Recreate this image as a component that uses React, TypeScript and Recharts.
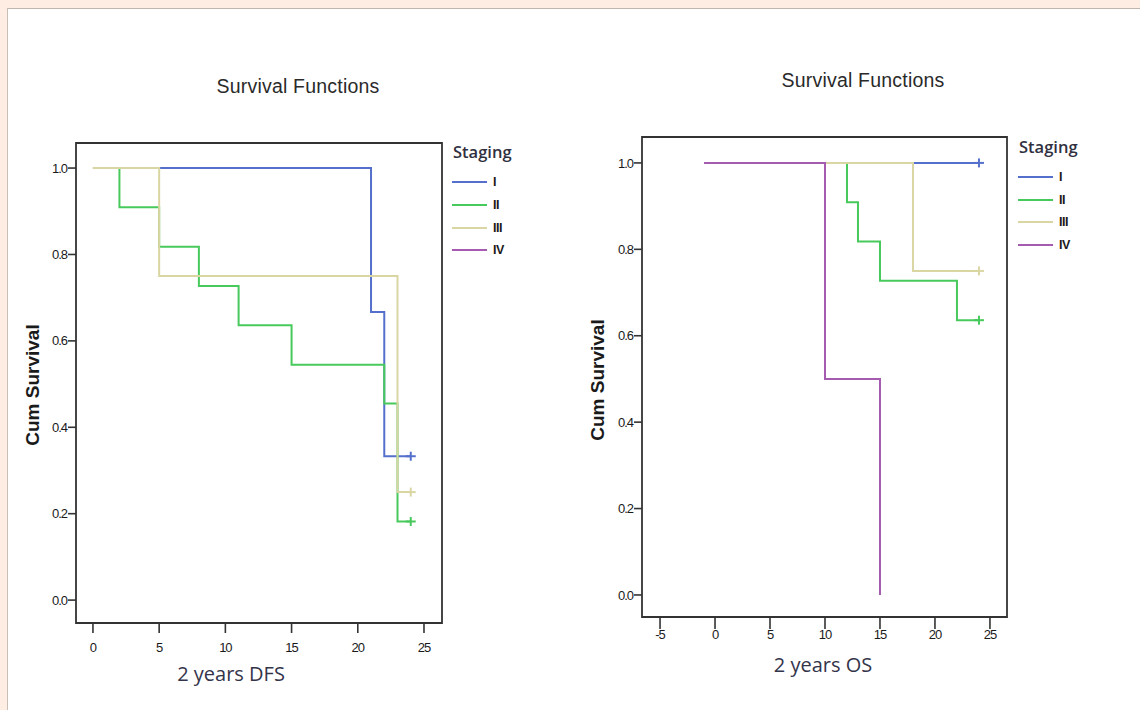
import { LineChart, Line, XAxis, YAxis, ReferenceArea } from 'recharts'

const stages = ['I', 'II', 'III', 'IV']
const stageColors = ['#5470cc', '#48c95c', '#dad6a4', '#a55cb0']

// 2 years DFS (months)
const dfsTimesI = [0, 21, 22, 24]
const dfsSurvI = [1, 0.667, 0.333, 0.333]
const dfsTimesII = [0, 2, 5, 8, 11, 15, 22, 23, 24]
const dfsSurvII = [1, 0.909, 0.818, 0.727, 0.636, 0.545, 0.455, 0.182, 0.182]
const dfsTimesIII = [0, 5, 23, 24]
const dfsSurvIII = [1, 0.75, 0.25, 0.25]

// 2 years OS (months)
const osTimesI = [0, 24]
const osSurvI = [1, 1]
const osTimesII = [0, 12, 13, 15, 22, 24]
const osSurvII = [1, 0.909, 0.818, 0.727, 0.636, 0.636]
const osTimesIII = [0, 18, 24]
const osSurvIII = [1, 0.75, 0.75]
const osTimesIV = [-1, 10, 15]
const osSurvIV = [1, 0.5, 0]

const dfsTicks = [0, 5, 10, 15, 20, 25]
const osTicks = [-5, 0, 5, 10, 15, 20, 25]
const survTicks = [0, 0.2, 0.4, 0.6, 0.8, 1.0]

interface Pt {
  t: number
  s: number
  censored: boolean
}

function toCurve(times: number[], surv: number[], censoredAtEnd: boolean): Pt[] {
  return times.map((t, i) => ({
    t,
    s: surv[i],
    censored: censoredAtEnd && i === times.length - 1,
  }))
}

interface Series {
  stage: number
  data: Pt[]
}

const dfsSeries: Series[] = [
  { stage: 0, data: toCurve(dfsTimesI, dfsSurvI, true) },
  { stage: 1, data: toCurve(dfsTimesII, dfsSurvII, true) },
  { stage: 2, data: toCurve(dfsTimesIII, dfsSurvIII, true) },
]

const osSeries: Series[] = [
  { stage: 0, data: toCurve(osTimesI, osSurvI, true) },
  { stage: 1, data: toCurve(osTimesII, osSurvII, true) },
  { stage: 2, data: toCurve(osTimesIII, osSurvIII, true) },
  { stage: 3, data: toCurve(osTimesIV, osSurvIV, false) },
]

const AXIS = '#333'
const tickFont = { fill: '#1a1a1a', fontSize: 13, fontFamily: 'Liberation Sans', letterSpacing: -1 }

function censorDot(color: string) {
  return (props: any) => {
    const { cx, cy, payload, index } = props
    if (!payload || !payload.censored) return <g key={`d${index}`} />
    return (
      <g key={`d${index}`}>
        <line x1={cx - 5} y1={cy} x2={cx + 5} y2={cy} stroke={color} strokeWidth={2} />
        <line x1={cx} y1={cy - 4.5} x2={cx} y2={cy + 4.5} stroke={color} strokeWidth={2} />
      </g>
    )
  }
}

interface PanelProps {
  left: number
  width: number
  margin: { top: number; right: number; bottom: number }
  yAxisWidth: number
  xAxisHeight: number
  xDomain: [number, number]
  yDomain: [number, number]
  xTicks: number[]
  xTickSize: number
  xTickMargin: number
  series: Series[]
}

function SurvivalPanel(p: PanelProps) {
  return (
    <div style={{ position: 'absolute', left: p.left, top: 0 }}>
      <LineChart
        width={p.width}
        height={710}
        margin={{ top: p.margin.top, right: p.margin.right, bottom: p.margin.bottom, left: 0 }}
      >
        <XAxis
          type="number"
          dataKey="t"
          domain={p.xDomain}
          ticks={p.xTicks}
          allowDataOverflow
          axisLine={false}
          tickLine={{ stroke: AXIS, strokeWidth: 1.6 }}
          tickSize={p.xTickSize}
          tickMargin={p.xTickMargin}
          height={p.xAxisHeight}
          tick={tickFont}
          interval={0}
        />
        <YAxis
          type="number"
          dataKey="s"
          domain={p.yDomain}
          ticks={survTicks}
          allowDataOverflow
          axisLine={false}
          tickLine={{ stroke: AXIS, strokeWidth: 1.6 }}
          tickSize={8}
          tickMargin={1}
          width={p.yAxisWidth}
          tick={tickFont}
          tickFormatter={(v: number) => v.toFixed(1)}
          interval={0}
        />
        <ReferenceArea
          x1={p.xDomain[0]}
          x2={p.xDomain[1]}
          y1={p.yDomain[0]}
          y2={p.yDomain[1]}
          fill="#fff"
          fillOpacity={0}
          stroke={AXIS}
          strokeWidth={1.8}
          ifOverflow="visible"
        />
        {p.series.map((s) => (
          <Line
            key={stages[s.stage]}
            data={s.data}
            dataKey="s"
            type="stepAfter"
            stroke={stageColors[s.stage]}
            strokeWidth={2}
            dot={censorDot(stageColors[s.stage])}
            activeDot={false}
            isAnimationActive={false}
          />
        ))}
      </LineChart>
    </div>
  )
}

function Centered({ x, y, children, style }: { x: number; y: number; children: any; style: any }) {
  return (
    <div
      style={{
        position: 'absolute',
        left: x,
        top: y,
        transform: 'translate(-50%, -50%)',
        whiteSpace: 'nowrap',
        ...style,
      }}
    >
      {children}
    </div>
  )
}

const titleStyle = { fontFamily: 'Liberation Sans', fontSize: 19.5, color: '#2a2a2a', letterSpacing: 0.2 }
const yLabelStyle = { fontFamily: 'Liberation Sans', fontSize: 19, fontWeight: 700, color: '#1a1a1a' }
const xLabelStyle = { fontFamily: 'Open Sans', fontSize: 20, color: '#34344a' }

function StagingLegend({ x, y, rowYs }: { x: number; y: number; rowYs: number[] }) {
  return (
    <div>
      <div
        style={{
          position: 'absolute',
          left: x,
          top: y - 12,
          fontFamily: 'Open Sans',
          fontWeight: 600,
          fontSize: 16.5,
          color: '#303040',
          lineHeight: '24px',
        }}
      >
        Staging
      </div>
      {stages.map((label, i) => (
        <div key={label}>
          <div
            style={{
              position: 'absolute',
              left: x - 1,
              top: rowYs[i] - 1,
              width: 35,
              height: 2,
              background: stageColors[i],
            }}
          />
          <div
            style={{
              position: 'absolute',
              left: x + 40,
              top: rowYs[i] - 8,
              fontFamily: 'Liberation Sans',
              fontWeight: 700,
              fontSize: 12.5,
              lineHeight: '16px',
              color: '#1a1a1a',
              letterSpacing: -0.5,
            }}
          >
            {label}
          </div>
        </div>
      ))}
    </div>
  )
}

export default function App() {
  return (
    <div style={{ position: 'fixed', left: 0, top: 0, width: 1140, height: 710, background: '#fdede2', overflow: 'hidden' }}>
      <div
        style={{
          position: 'absolute',
          left: 7,
          top: 8,
          right: 0,
          bottom: 0,
          background: '#fff',
          borderTop: '1px solid #bdb5ae',
          borderLeft: '1px solid #c8c0b8',
        }}
      />
      <SurvivalPanel
        left={0}
        width={560}
        margin={{ top: 143, right: 118, bottom: 57 }}
        yAxisWidth={76}
        xAxisHeight={30}
        xDomain={[-1.28, 26.36]}
        yDomain={[-0.053, 1.058]}
        xTicks={dfsTicks}
        xTickSize={10}
        xTickMargin={10}
        series={dfsSeries}
      />
      <SurvivalPanel
        left={560}
        width={580}
        margin={{ top: 137, right: 133, bottom: 63 }}
        yAxisWidth={82}
        xAxisHeight={30}
        xDomain={[-6.64, 26.55]}
        yDomain={[-0.051, 1.06]}
        xTicks={osTicks}
        xTickSize={12}
        xTickMargin={1}
        series={osSeries}
      />
      <Centered x={298} y={86} style={titleStyle}>Survival Functions</Centered>
      <Centered x={863} y={80} style={titleStyle}>Survival Functions</Centered>
      <Centered x={33} y={385} style={{ ...yLabelStyle, transform: 'translate(-50%, -50%) rotate(-90deg)' }}>
        Cum Survival
      </Centered>
      <Centered x={598} y={380} style={{ ...yLabelStyle, transform: 'translate(-50%, -50%) rotate(-90deg)' }}>
        Cum Survival
      </Centered>
      <Centered x={231} y={673} style={xLabelStyle}>2 years DFS</Centered>
      <Centered x={823} y={664} style={xLabelStyle}>2 years OS</Centered>
      <StagingLegend x={453} y={152} rowYs={[182, 205, 228, 250]} />
      <StagingLegend x={1019} y={147} rowYs={[177, 200, 222, 245]} />
    </div>
  )
}
